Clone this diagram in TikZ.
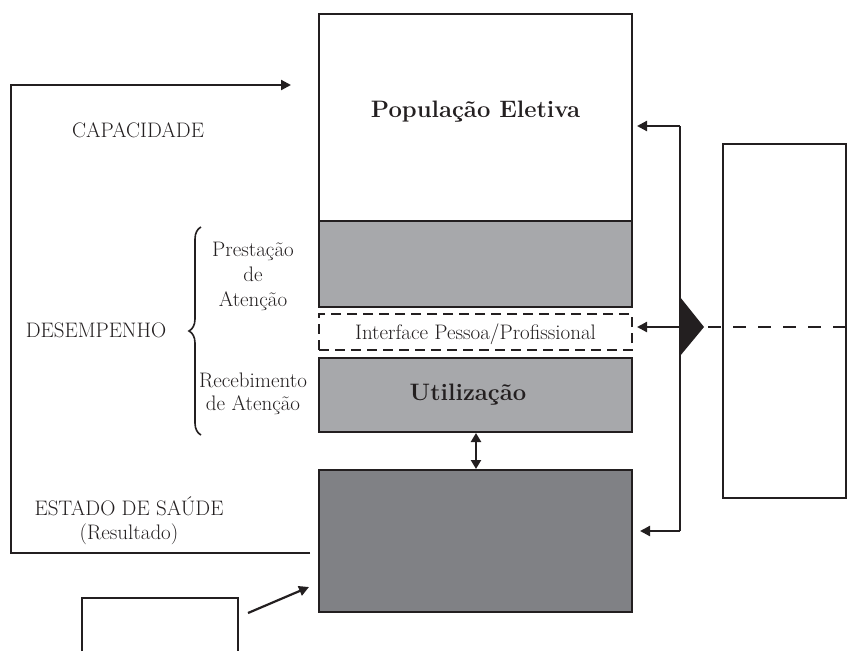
\documentclass[tikz,border=0pt]{standalone}
\usepackage{fontspec}
\usetikzlibrary{arrows.meta,decorations.pathreplacing}
\definecolor{lightbox}{HTML}{A7A8AB}
\definecolor{darkbox}{HTML}{808185}
\definecolor{ink}{HTML}{231F20}
\begin{document}
\begin{tikzpicture}[x=1pt,y=-1pt,
  line width=2.2pt, draw=ink,
  boxnode/.style={draw=ink, line width=2.2pt, inner sep=0pt, minimum width=313pt},
  txt/.style={inner sep=0pt, text=ink, font=\fontsize{21}{25}\selectfont, align=center},
  btxt/.style={inner sep=0pt, text=ink, font=\fontsize{23.8}{28}\selectfont\bfseries},
  arr/.style={-{Triangle[length=10pt,width=10pt]}},
  darr/.style={{Triangle[length=9pt,width=10pt]}-{Triangle[length=9pt,width=10pt]}}
]
\useasboundingbox (0,0) rectangle (853,651);

% main column
\node[boxnode, fill=white, minimum height=207pt] (pop) at (475.5,117.5) {};
\node[btxt] (poptxt) at (475.5,112) {População Eletiva};
\node[boxnode, fill=lightbox, minimum height=86pt] (prest) at (475.5,264) {};
\node[boxnode, fill=white, dash pattern=on 10pt off 6pt, minimum height=36pt] (iface) at (475.5,332) {};
\node[txt] (ifacetxt) at (475.5,334) {Interface Pessoa/Profissional};
\node[boxnode, fill=lightbox, minimum height=74pt] (util) at (475.5,395) {};
\node[btxt] (utiltxt) at (468,395) {Utilização};
\node[boxnode, fill=darkbox, minimum height=142pt] (health) at (475.5,541) {};

\draw[darr] (476,433) -- (476,469);

% right bracket
\coordinate (b1) at (680,126);
\coordinate (b2) at (680,327);
\coordinate (b3) at (680,531);
\draw (b1) -- (b3);
\draw[arr] (b1) -- (637,126);
\draw[arr] (b2) -- (637,327);
\draw[arr] (b3) -- (640,531);
\coordinate (tip) at (704,327);
\fill[ink] (680,297) -- (tip) -- (680,356) -- cycle;
\node[draw=ink, line width=2.2pt, inner sep=0pt, minimum width=123pt, minimum height=354pt] (rbox) at (784.5,321) {};
\coordinate (rend) at (853,327);
\draw[dash pattern=on 13pt off 12pt, dash phase=-4pt] (tip) -- (rend);

% left loop
\coordinate (l1) at (310,553);
\coordinate (l2) at (11,553);
\coordinate (l3) at (11,85);
\coordinate (l4) at (291,85);
\draw[arr] (l1) -- (l2) -- (l3) -- (l4);

% bottom-left box
\draw (82,651) -- (82,598) -- (238,598) -- (238,651);
\coordinate (a1) at (248,613);
\coordinate (a2) at (309,587);
\draw[arr] (a1) -- (a2);

% left texts
\node[txt] (cap) at (138,130) {CAPACIDADE};
\node[txt] (des) at (96,330) {DESEMPENHO};
\node[txt, font=\fontsize{21}{25}\selectfont] (prtxt) at (253,276) {Prestação\\de\\Atenção};
\node[txt, font=\fontsize{21}{23}\selectfont] (rctxt) at (253,394) {Recebimento\\de Atenção};
\node[txt, font=\fontsize{21}{24}\selectfont] (est) at (129,521) {ESTADO DE SAÚDE\\(Resultado)};

\draw[line width=1.6pt, decorate, decoration={brace, amplitude=12pt}] (201,435) -- (201,227);
\end{tikzpicture}
\end{document}
